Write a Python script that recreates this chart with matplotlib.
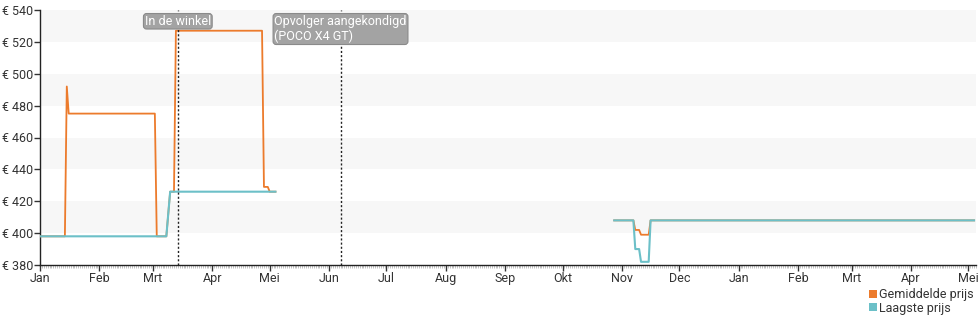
import matplotlib
matplotlib.use('Agg')
import matplotlib.pyplot as plt
import matplotlib.dates as mdates
import pandas as pd
import numpy as np

plt.rcParams['font.family'] = ['Roboto', 'DejaVu Sans']

# Gemiddelde prijs (NaN = onderbreking)
avg_dates = ['2022-01-01', '2022-01-14', '2022-01-15', '2022-01-16', '2022-03-02',
             '2022-03-03', '2022-03-08', '2022-03-10', '2022-03-12', '2022-03-13',
             '2022-04-27', '2022-04-28', '2022-04-30', '2022-05-01', '2022-05-04',
             '2022-07-01',
             '2022-10-28', '2022-11-07', '2022-11-08', '2022-11-10', '2022-11-11',
             '2022-11-15', '2022-11-16', '2023-05-04']
avg_prices = [398, 398, 492, 475, 475,
              398, 398, 426, 426, 527,
              527, 429, 429, 426, 426,
              np.nan,
              408, 408, 402, 402, 399,
              399, 408, 408]

# Laagste prijs
low_dates = ['2022-01-01', '2022-03-08', '2022-03-10', '2022-05-04',
             '2022-07-01',
             '2022-10-28', '2022-11-07', '2022-11-08', '2022-11-10', '2022-11-11',
             '2022-11-15', '2022-11-16', '2023-05-04']
low_prices = [398, 398, 426, 426,
              np.nan,
              408, 408, 390, 390, 382,
              382, 408, 408]

month_ticks = ['2022-01-01', '2022-02-01', '2022-03-01', '2022-04-01', '2022-05-01',
               '2022-06-01', '2022-07-01', '2022-08-01', '2022-09-01', '2022-10-01',
               '2022-11-01', '2022-12-01', '2023-01-01', '2023-02-01', '2023-03-01',
               '2023-04-01', '2023-05-01']
month_labels = ['Jan', 'Feb', 'Mrt', 'Apr', 'Mei', 'Jun', 'Jul', 'Aug', 'Sep', 'Okt',
                'Nov', 'Dec', 'Jan', 'Feb', 'Mrt', 'Apr', 'Mei']

price_ticks = [380, 400, 420, 440, 460, 480, 500, 520, 540]

events = ['2022-03-14', '2022-06-07']
event_labels = ['In de winkel', 'Opvolger aangekondigd\n(POCO X4 GT)']

c_avg = '#ec7b2c'
c_low = '#6cc0c8'
c_text = '#333333'

fig = plt.figure(figsize=(9.8, 3.25), dpi=100)
ax = fig.add_axes([40 / 980, 60 / 325, 936 / 980, 255 / 325])

# Grijze banden
for lo in [400, 440, 480, 520]:
    ax.axhspan(lo, lo + 20, color='#f7f7f7', zorder=0, lw=0)

ax.plot(pd.to_datetime(avg_dates), avg_prices, color=c_avg, lw=1.3, zorder=3)
ax.plot(pd.to_datetime(low_dates), low_prices, color=c_low, lw=1.5, zorder=4)

# Gebeurtenissen
for d, lab in zip(events, event_labels):
    x = pd.to_datetime(d)
    ax.axvline(x, color='#222222', lw=1, ls=(0, (1.5, 1.5)), zorder=5)
    ax.annotate(lab, xy=(x, 537), ha='center', va='top', fontsize=9,
                color='white', multialignment='left', zorder=6,
                bbox=dict(boxstyle='round,pad=0.1,rounding_size=0.25',
                          fc='#a3a3a3', ec='#8a8a8a', lw=0.8))

ax.set_xlim(pd.to_datetime('2022-01-01'), pd.to_datetime('2023-05-05'))
ax.set_ylim(380, 540)

ax.set_xticks(pd.to_datetime(month_ticks))
ax.set_xticklabels(month_labels)
ax.xaxis.set_minor_locator(mdates.DayLocator())
ax.set_yticks(price_ticks)
ax.set_yticklabels([f'€ {p}' for p in price_ticks])

ax.tick_params(axis='both', labelsize=9, colors=c_text, length=4, width=1, pad=1)
ax.tick_params(axis='x', which='minor', length=2, width=0.5, color='#aaaaaa')

for s in ['top', 'right']:
    ax.spines[s].set_visible(False)
for s in ['left', 'bottom']:
    ax.spines[s].set_color('#222222')
    ax.spines[s].set_linewidth(1)

handles = [plt.Rectangle((0, 0), 1, 1, fc=c_avg), plt.Rectangle((0, 0), 1, 1, fc=c_low)]
fig.legend(handles, ['Gemiddelde prijs', 'Laagste prijs'], loc='upper right',
           bbox_to_anchor=(974 / 980, 1 - 288 / 325), frameon=False, fontsize=9,
           handlelength=0.6, handleheight=0.6, handletextpad=0.2, labelspacing=0.05,
           borderpad=0, borderaxespad=0, labelcolor=c_text)

fig.savefig('out.png', dpi=100, facecolor='white')
